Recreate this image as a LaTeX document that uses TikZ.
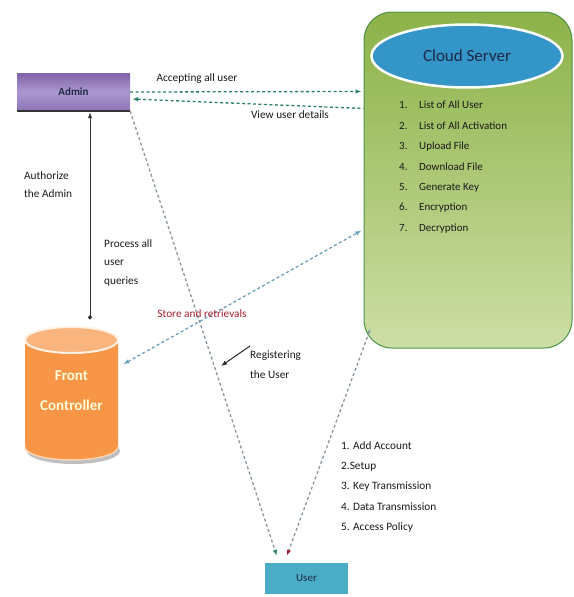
\documentclass[tikz,border=0pt]{standalone}
\usepackage{fontspec}
\setmainfont{Carlito}
\usetikzlibrary{positioning}
\usetikzlibrary{calc}
\usetikzlibrary{arrows.meta}
\usetikzlibrary{shapes.geometric}

\definecolor{admintop}{RGB}{128,98,168}
\definecolor{adminmid}{RGB}{172,152,208}
\definecolor{adminbot}{RGB}{140,114,182}
\definecolor{cloudtop}{RGB}{140,178,72}
\definecolor{cloudbot}{RGB}{205,222,165}
\definecolor{serverfill}{RGB}{52,150,200}
\definecolor{fcfill}{RGB}{247,150,70}
\definecolor{fctop}{RGB}{250,180,125}
\definecolor{userfill}{RGB}{75,172,198}
\definecolor{linkgreen}{RGB}{40,130,95}
\definecolor{linkgray}{RGB}{135,150,160}
\definecolor{linkblue}{RGB}{105,160,185}
\definecolor{storered}{RGB}{165,30,45}
\definecolor{textdark}{RGB}{30,40,70}

\tikzset{
  lbl/.style={inner sep=0pt, text=black!90, font=\fontsize{11.3}{18.5}\selectfont},
  linkdash/.style={line width=1.3pt, dash pattern=on 3pt off 2.5pt},
}

\begin{document}
\begin{tikzpicture}[x=1pt, y=-1pt,
    adminbox/.style={rectangle, minimum width=113pt, minimum height=38pt,
      top color=admintop, bottom color=adminbot, middle color=adminmid, text=textdark,
      font=\bfseries\fontsize{11}{13}\selectfont},
    cloudbox/.style={rectangle, rounded corners=28pt, minimum width=208pt,
      minimum height=336pt, draw=black!60!green!70, line width=1pt,
      top color=cloudtop, bottom color=cloudbot},
    serverellipse/.style={ellipse, minimum width=191pt, minimum height=63pt,
      fill=serverfill, draw=white, line width=2.5pt, text=textdark,
      font=\fontsize{17}{20}\selectfont},
    userbox/.style={rectangle, minimum width=83pt, minimum height=31pt,
      fill=userfill, text=textdark, font=\fontsize{11}{13}\selectfont}]
  \useasboundingbox (0,0) rectangle (573,597);

  % Cylinder of the front controller
  \def\fcl{25}
  \def\fcr{118}
  \def\fctopy{340}
  \def\fcboty{447}
  \fill[black!25] (73.5,451) ellipse [x radius=46.5, y radius=13];
  \fill[fcfill] (\fcl,\fctopy) -- (\fcl,\fcboty)
    arc [start angle=180, end angle=0, x radius=46.5, y radius=13]
    -- (\fcr,\fctopy) -- cycle;
  \draw[fctop!60!white, line width=1.5pt] (\fcl,\fcboty)
    arc [start angle=180, end angle=0, x radius=46.5, y radius=13];
  \fill[fctop] (71.5,\fctopy) ellipse [x radius=46.5, y radius=13];
  \draw[white!90!orange, line width=2pt] (71.5,\fctopy) ellipse [x radius=46.5, y radius=13];
  \node[minimum width=93pt, minimum height=133pt, align=center, text=white!85!yellow,
    font=\bfseries\fontsize{15}{30}\selectfont] (fc) at (71.5,391) {Front\\Controller};

  % Admin and user boxes
  \node[adminbox] (admin) at (73.5,92) {Admin};
  \draw[black!80, line width=2pt] (admin.south west) -- (admin.south east);
  \node[userbox] (user) at (306.5,578.5) {User};

  % Cloud server with its tasks
  \node[cloudbox] (cloud) at (468,180) {};
  \node[serverellipse] (server) at (467,56) {Cloud Server};
  \foreach \t [count=\i] in {List of All User, List of All Activation, Upload File,
      Download File, Generate Key, Encryption, Decryption} {
    \node[lbl, anchor=west, font=\fontsize{11}{12}\selectfont] (task\i)
      at (399, {105+(\i-1)*20.6}) {\makebox[20pt][l]{\i.}\t};
  }

  % Steps of the user
  \foreach \t [count=\i] in {1. Add Account, 2.Setup, 3. Key Transmission,
      4. Data Transmission, 5. Access Policy} {
    \node[lbl, anchor=west] (step\i) at (341, {446+(\i-1)*20.3}) {\t};
  }

  % Connectors
  \draw[linkdash, linkgreen, -{Latex[length=6pt]}] (admin.east)
    -- ($(cloud.north west)+(-2,80)$);
  \draw[linkdash, linkgreen, {Latex[length=6pt]}-] ($(admin.east)+(2,7)$)
    -- ($(cloud.north west)+(0,97)$);
  \draw[black!80, line width=1pt, {Latex[length=6pt]}-{Circle[length=4pt]}]
    ($(admin.south)+(16.5,1)$) -- ($(fc.north)+(18.5,-5)$);
  \draw[linkdash, linkgray, -{Latex[length=6pt, color=linkgreen]}] (admin.south east)
    -- ($(user.north west)+(12,-7)$);
  \draw[linkdash, linkgray, {Latex[length=4pt]}-{Latex[length=6pt, color=storered]}]
    ($(cloud.south west)+(7,-20)$) -- ($(user.north west)+(22,-7)$);
  \draw[linkdash, linkblue, {Latex[length=6pt]}-{Latex[length=6pt]}]
    ($(fc.north east)+(5,40)$) -- ($(cloud.north west)+(-2,219)$);

  % Labels
  \node[lbl] (acceptlbl) at (197,79) {Accepting all user};
  \node[lbl] (viewlbl) at (290,115) {View user details};
  \node[lbl, align=left, anchor=north west] (authlbl) at (24,171) {Authorize\\the Admin};
  \node[lbl, align=left, anchor=north west] (querylbl) at (104,239) {Process all\\user\\queries};
  \node[lbl, text=storered] (storelbl) at (202,314) {Store and retrievals};
  \node[lbl, align=left, anchor=north west, font=\fontsize{11.3}{20}\selectfont]
    (reglbl) at (250,351) {Registering\\the User};
  \coordinate (regtip) at (221,366);
  \draw[black!85, line width=1pt, -{Latex[length=6pt]}] ($(reglbl.north west)+(0,-5)$) -- (regtip);
\end{tikzpicture}
\end{document}
